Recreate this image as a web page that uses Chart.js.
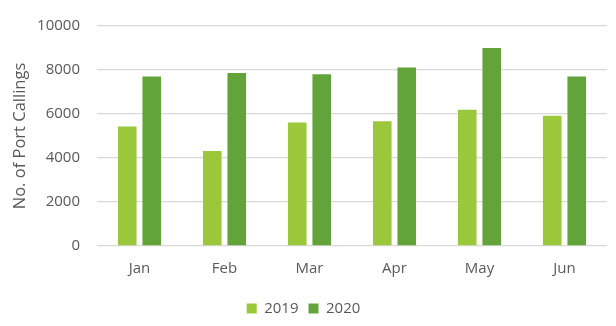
<!DOCTYPE html>
<html>
<head>
<meta charset="utf-8">
<script src="https://cdn.jsdelivr.net/npm/chart.js@4"></script>
<style>
html,body{margin:0;padding:0;background:#fff;}
#wrap{width:616px;height:326px;position:relative;}
</style>
</head>
<body>
<div id="wrap"><canvas id="c" width="616" height="326"></canvas></div>
<script>
const categories = ["Jan","Feb","Mar","Apr","May","Jun"];
const series2019 = [5430,4320,5610,5670,6190,5920];
const series2020 = [7710,7860,7810,8110,9000,7710];
const seriesNames = ["2019","2020"];
const yTicks = [0,2000,4000,6000,8000,10000];

const FONT = "'Open Sans', sans-serif";
const TXT = "#595959";

new Chart(document.getElementById('c'), {
  type: 'bar',
  data: {
    labels: categories,
    datasets: [
      {label: seriesNames[0], data: series2019, backgroundColor: '#9BC83B', categoryPercentage: 0.576, barPercentage: 0.76},
      {label: seriesNames[1], data: series2020, backgroundColor: '#62A43A', categoryPercentage: 0.576, barPercentage: 0.76}
    ]
  },
  options: {
    responsive: false,
    animation: false,
    devicePixelRatio: 1,
    layout: {padding: {left: 0, right: 9, top: 12, bottom: 0}},
    plugins: {
      tooltip: {enabled: false},
      legend: {
        position: 'bottom',
        labels: {
          font: {family: FONT, size: 15},
          color: TXT,
          boxWidth: 10, boxHeight: 10,
          padding: 10
        }
      }
    },
    scales: {
      x: {
        grid: {display: false},
        border: {display: false},
        ticks: {font: {family: FONT, size: 15}, color: TXT, padding: 6},
        afterFit: (s) => { s.height = 45; }
      },
      y: {
        min: 0, max: 10000,
        afterBuildTicks: (s) => { s.ticks = yTicks.map(v => ({value: v})); },
        grid: {color: '#D9D9D9', lineWidth: 1.3, drawTicks: false},
        border: {display: false},
        ticks: {font: {family: FONT, size: 15}, color: TXT, padding: 17, callback: (v) => String(v)},
        title: {display: true, text: 'No. of Port Callings', font: {family: FONT, size: 16.5}, color: TXT, padding: {top: 10, bottom: 0}},
        afterFit: (s) => { s.width = 97; }
      }
    }
  }
});
</script>
</body>
</html>
